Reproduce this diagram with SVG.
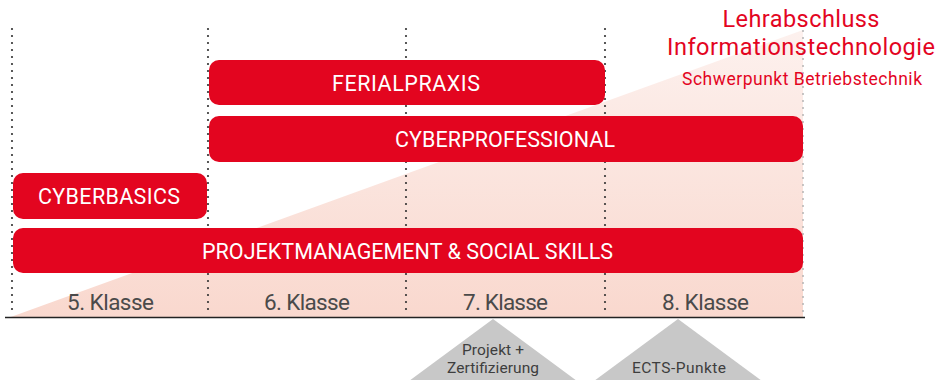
<svg xmlns="http://www.w3.org/2000/svg" width="949" height="380" viewBox="0 0 949 380">
  <style>
    .bar { fill: #e3051f; }
    .bartxt { font-family: Roboto, "Liberation Sans", sans-serif; font-size: 21.5px; fill: #ffffff; text-anchor: middle; }
    .cls { font-family: Roboto, "Liberation Sans", sans-serif; font-size: 22.5px; fill: #4a4a4a; text-anchor: middle; }
    .gtxt { font-family: Roboto, "Liberation Sans", sans-serif; font-size: 15.5px; fill: #3e3e3e; text-anchor: middle; }
    .ttl { font-family: Roboto, "Liberation Sans", sans-serif; fill: #e3051f; text-anchor: middle; }
    .dots { stroke: #333333; stroke-width: 2.2; stroke-linecap: round; stroke-dasharray: 0 7; fill: none; }
    .dotsl { stroke: #b5b5b5; stroke-width: 2; stroke-linecap: round; stroke-dasharray: 0 7; fill: none; }
  </style>
  <defs>
    <linearGradient id="wedge" x1="0" y1="30" x2="0" y2="318" gradientUnits="userSpaceOnUse">
      <stop offset="0" stop-color="#fdf1ee"/>
      <stop offset="1" stop-color="#f9d8ce"/>
    </linearGradient>
  </defs>
  <rect width="949" height="380" fill="#ffffff"/>

  <g id="wedge-bg">
    <polygon points="8,318 803,30 803,318" fill="url(#wedge)"/>
  </g>

  <g id="grid">
    <line class="dots" x1="12" y1="29" x2="12" y2="316"/>
    <line class="dots" x1="208" y1="29" x2="208" y2="316"/>
    <line class="dots" x1="406" y1="29" x2="406" y2="316"/>
    <line class="dots" x1="605" y1="29" x2="605" y2="316"/>
    <line class="dotsl" x1="803" y1="31" x2="803" y2="316"/>
    <line x1="5" y1="317.5" x2="805" y2="317.5" stroke="#222222" stroke-width="1.5"/>
  </g>

  <g id="title">
    <text class="ttl" x="801" y="27" font-size="23.5" textLength="157">Lehrabschluss</text>
    <text class="ttl" x="801" y="55" font-size="23.5" textLength="268">Informationstechnologie</text>
    <text class="ttl" x="802" y="85" font-size="17.5" textLength="240">Schwerpunkt Betriebstechnik</text>
  </g>

  <g id="ferialpraxis">
    <rect class="bar" x="209" y="60" width="396" height="45" rx="10"/>
    <text class="bartxt" x="406" y="90.5" textLength="148">FERIALPRAXIS</text>
  </g>
  <g id="cyberprofessional">
    <rect class="bar" x="209" y="116" width="594" height="46" rx="10"/>
    <text class="bartxt" x="505" y="147" textLength="220">CYBERPROFESSIONAL</text>
  </g>
  <g id="cyberbasics">
    <rect class="bar" x="13" y="173" width="194" height="46" rx="10"/>
    <text class="bartxt" x="109" y="204" textLength="142">CYBERBASICS</text>
  </g>
  <g id="projektmanagement">
    <rect class="bar" x="13" y="228" width="790" height="45" rx="10"/>
    <text class="bartxt" x="407.5" y="258.5" textLength="411">PROJEKTMANAGEMENT &amp; SOCIAL SKILLS</text>
  </g>

  <g id="klassen">
    <text class="cls" x="110.5" y="310" textLength="87">5. Klasse</text>
    <text class="cls" x="307" y="310" textLength="86">6. Klasse</text>
    <text class="cls" x="505.5" y="310" textLength="85">7. Klasse</text>
    <text class="cls" x="705.5" y="310" textLength="87">8. Klasse</text>
  </g>

  <g id="projekt-zertifizierung">
    <polygon points="493,319 409,381 577,381" fill="#c8c8c8"/>
    <text class="gtxt" x="493" y="355" textLength="62">Projekt +</text>
    <text class="gtxt" x="493" y="373" textLength="92">Zertifizierung</text>
  </g>
  <g id="ects-punkte">
    <polygon points="678,319 594,381 762,381" fill="#c8c8c8"/>
    <text class="gtxt" x="679" y="373" textLength="94">ECTS-Punkte</text>
  </g>
</svg>
